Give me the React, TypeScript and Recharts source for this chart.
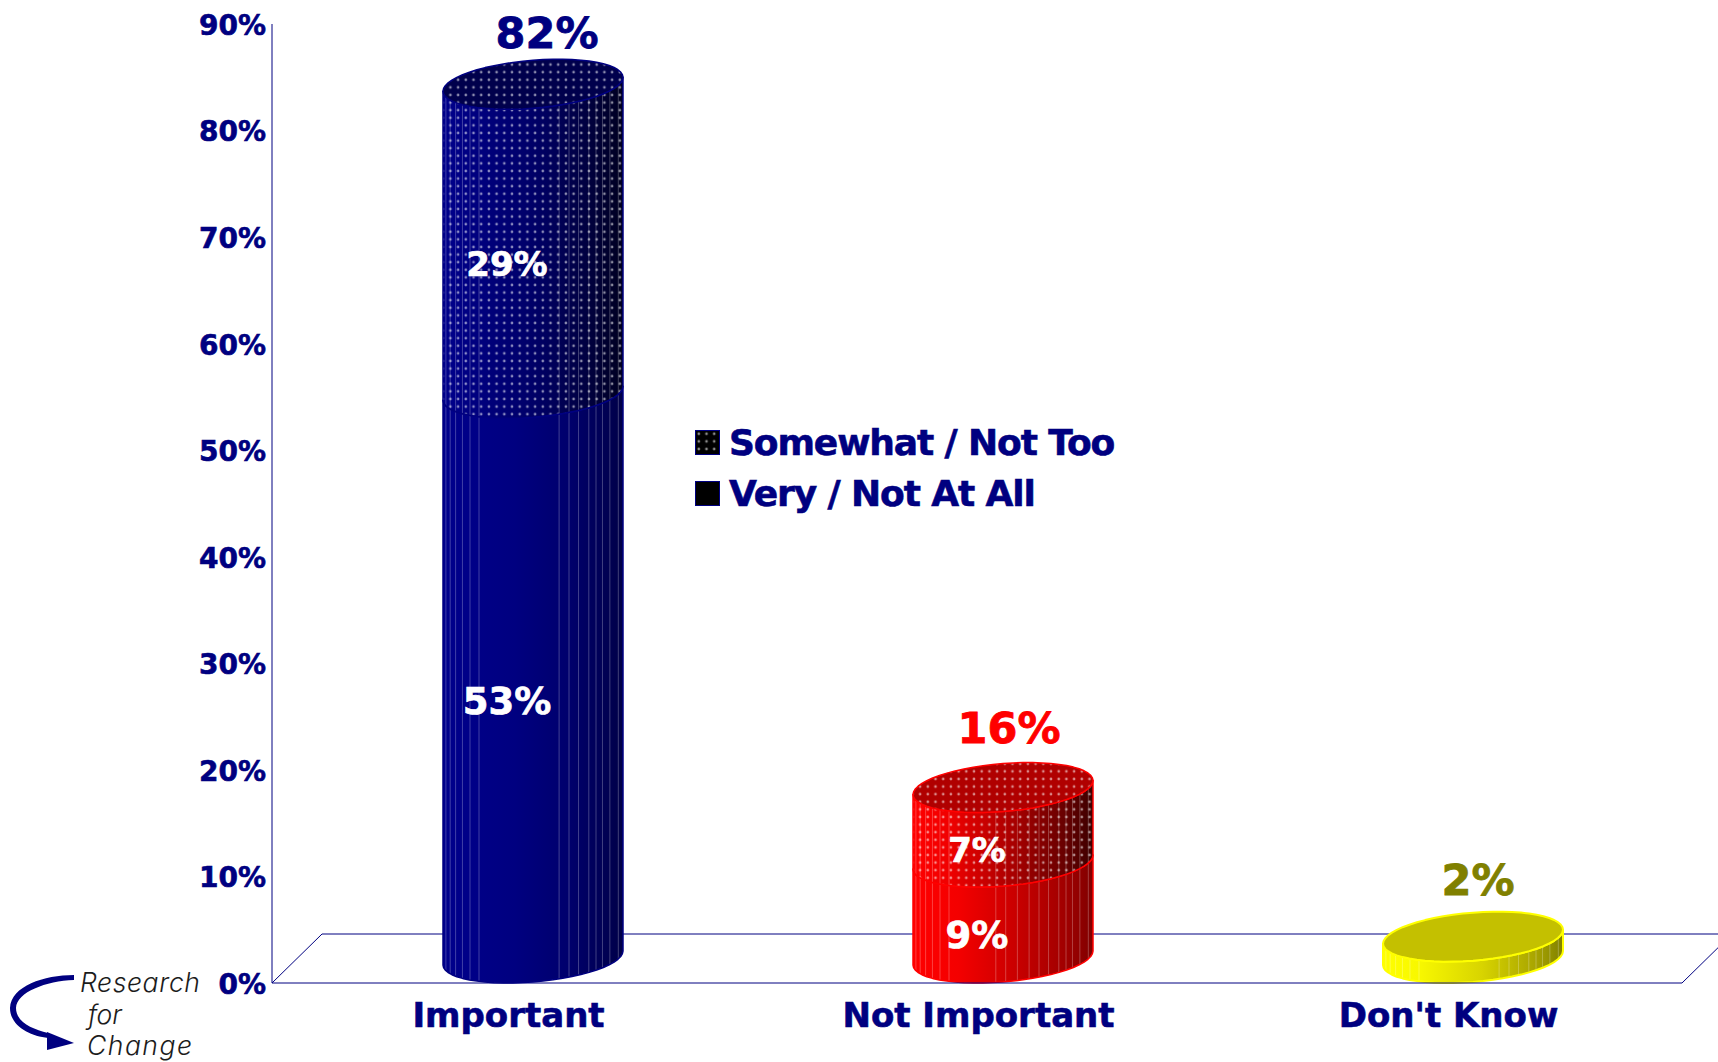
import React from "react";
import {
  ComposedChart,
  Bar,
  Line,
  XAxis,
  YAxis,
  Legend,
  LabelList,
  usePlotArea,
} from "recharts";

const categories = ["Important", "Not Important", "Don't Know"];
const veryValues = [53, 9, null];
const somewhatValues = [29, 7, null];
const dontKnowValues = [null, null, 2];
const totalValues = [82, 16, 2];
const yTicks = [0, 10, 20, 30, 40, 50, 60, 70, 80, 90];
const legendLabels = ["Somewhat / Not Too", "Very / Not At All"];

const totalColors = ["#000080", "#ff0000", "#808000"];
const totalDx = [40, 32, 31];
const totalDy = [-76, -85, -82];
const facetStops = [0.016, 0.04, 0.07, 0.108, 0.15, 0.2, 0.645, 0.7, 0.753, 0.81, 0.85, 0.886, 0.927, 0.974];
const centreFacetStops = [0.46, 0.515, 0.58];

const NAVY = "#000080";
const FONT = "'DejaVu Sans', sans-serif";

const chartData = categories.map((name, i) => ({
  name,
  very: veryValues[i],
  somewhat: somewhatValues[i],
  dontKnow: dontKnowValues[i],
  total: totalValues[i],
}));

const palette = [
  { stroke: "#000080", cap: "#00004c", plain: "url(#blueSide)", dotted: "url(#blueSideDark)" },
  { stroke: "#ff0000", cap: "#b00000", plain: "url(#redSide)", dotted: "url(#redSideDark)" },
  { stroke: "#ffff00", cap: "#c4c000", plain: "url(#yellowSide)", dotted: "url(#yellowSide)" },
];

const DEPTH_SHIFT = 26;
const B = 24;
const K = -7;
const R = Math.sqrt(B * B + K * K);
const STEPS = 28;

function pt(cx: number, cy: number, a: number, t: number): [number, number] {
  return [cx + a * Math.cos(t), cy + B * Math.sin(t) + K * Math.cos(t)];
}

function frontArc(cx: number, cy: number, a: number) {
  const out: [number, number][] = [];
  for (let i = 0; i <= STEPS; i++) out.push(pt(cx, cy, a, Math.PI - (Math.PI * i) / STEPS));
  return out;
}

function toPath(points: [number, number][], close = true) {
  return points.map((p, i) => `${i ? "L" : "M"}${p[0].toFixed(1)} ${p[1].toFixed(1)}`).join(" ") + (close ? " Z" : "");
}

function Cylinder(props: any) {
  const { x, y, width, height, index, dots, topped, plainSide } = props;
  if (!height || height <= 0) return null;
  const colors = palette[index];
  const a = width / 2;
  const cx = x + a + DEPTH_SHIFT;
  const cyTop = y - R;
  const cyBottom = y + height - R;
  const top = frontArc(cx, cyTop, a);
  const bottom = frontArc(cx, cyBottom, a).reverse();
  const side = toPath([...top, ...bottom]);
  const ring: [number, number][] = [];
  for (let i = 0; i < STEPS * 2; i++) ring.push(pt(cx, cyTop, a, (Math.PI * i) / STEPS));
  const cap = toPath(ring);
  const stops = index === 1 ? [...facetStops, ...centreFacetStops] : facetStops;
  return (
    <g>
      <path d={side} fill={plainSide ? colors.plain : colors.dotted} />
      {stops.map((f) => {
        const c = 2 * f - 1;
        const s = Math.sqrt(1 - c * c);
        const lx = cx + a * c;
        return (
          <line
            key={f}
            x1={lx}
            x2={lx}
            y1={cyTop + B * s + K * c}
            y2={cyBottom + B * s + K * c}
            stroke="#ffffff"
            strokeOpacity={0.25}
            strokeWidth={1}
          />
        );
      })}
      {dots ? <path d={side} fill="url(#dotGrid)" /> : null}
      <path d={side} fill="none" stroke={colors.stroke} strokeWidth={index === 2 ? 2 : 1.5} strokeLinejoin="round" />
      {topped ? (
        <g>
          <path d={cap} fill={colors.cap} />
          {dots ? <path d={cap} fill="url(#dotGrid)" /> : null}
          <path d={cap} fill="none" stroke={colors.stroke} strokeWidth={index === 2 ? 2 : 1.5} strokeLinejoin="round" />
        </g>
      ) : null}
    </g>
  );
}

function Floor() {
  const area = usePlotArea();
  if (!area) return null;
  const left = area.x;
  const right = area.x + area.width;
  const base = area.y + area.height;
  const back = base - 49;
  return (
    <g fill="none" stroke={NAVY} strokeWidth={1}>
      <path d={`M${left} ${base} L${left + 50} ${back} L1718 ${back}`} />
      <path d={`M${right} ${base} L${right + 50} ${back}`} />
    </g>
  );
}

function TotalLabel(props: any) {
  const { x, y, value, index } = props;
  return (
    <text
      x={x + totalDx[index]}
      y={y + totalDy[index]}
      textAnchor="middle"
      dominantBaseline="central"
      fill={totalColors[index]}
      stroke={totalColors[index]}
      strokeWidth={0.8}
      fontFamily={FONT}
      fontWeight={700}
      fontSize={43}
    >
      {value}%
    </text>
  );
}

function LegendContent() {
  return (
    <div style={{ fontFamily: FONT, fontWeight: 700, fontSize: 36, color: NAVY, letterSpacing: -1.1 }}>
      {legendLabels.map((label, i) => (
        <div key={label} style={{ display: "flex", alignItems: "center", height: 51 }}>
          <svg width={25} height={25} style={{ marginRight: 9, flex: "none" }}>
            <rect x={0.5} y={0.5} width={24} height={24} fill="#000000" stroke={NAVY} />
            {i === 0 ? <rect x={1} y={1} width={23} height={23} fill="url(#dotGrid)" /> : null}
          </svg>
          <span style={{ whiteSpace: "nowrap", lineHeight: 1, WebkitTextStroke: "0.6px #000080" }}>{label}</span>
        </div>
      ))}
    </div>
  );
}

function Logo() {
  return (
    <svg width={240} height={112} style={{ position: "absolute", left: 0, top: 950 }}>
      <g transform="translate(0 22)">
        <path
          d="M74 3 C44 3 11 14 10 36 C10 54 30 64 48 66 L48 61 C32 57 16 50 16 36 C17 20 46 9 74 8 Z"
          fill={NAVY}
        />
        <path d="M47 60 L74 71 L47 78 Z" fill={NAVY} />
        <g fill="#1c1c1c" fontFamily="Inter, sans-serif" fontStyle="italic" fontWeight={300} fontSize={26.5}>
          <text x={80} y={20} letterSpacing={0.6}>Research</text>
          <text x={88} y={52}>for</text>
          <text x={87} y={83} letterSpacing={1.5}>Change</text>
        </g>
      </g>
    </svg>
  );
}

export default function App() {
  return (
    <div style={{ position: "absolute", left: 0, top: 0, width: 1718, height: 1062, background: "#ffffff", overflow: "hidden" }}>
      <ComposedChart
        width={1718}
        height={1062}
        data={chartData}
        margin={{ top: 24, right: 36, bottom: 0, left: 0 }}
        barCategoryGap={0}
      >
        <defs>
          <linearGradient id="blueSide" x1="0" x2="1" y1="0" y2="0">
            <stop offset="0" stopColor="#00008c" />
            <stop offset="0.4" stopColor="#000080" />
            <stop offset="0.7" stopColor="#00006c" />
            <stop offset="1" stopColor="#000048" />
          </linearGradient>
          <linearGradient id="blueSideDark" x1="0" x2="1" y1="0" y2="0">
            <stop offset="0" stopColor="#00008c" />
            <stop offset="0.5" stopColor="#000068" />
            <stop offset="0.8" stopColor="#000040" />
            <stop offset="1" stopColor="#000020" />
          </linearGradient>
          <linearGradient id="redSide" x1="0" x2="1" y1="0" y2="0">
            <stop offset="0" stopColor="#ff0000" />
            <stop offset="0.25" stopColor="#f40000" />
            <stop offset="0.55" stopColor="#cc0000" />
            <stop offset="0.85" stopColor="#a00000" />
            <stop offset="1" stopColor="#800000" />
          </linearGradient>
          <linearGradient id="redSideDark" x1="0" x2="1" y1="0" y2="0">
            <stop offset="0" stopColor="#ff0000" />
            <stop offset="0.2" stopColor="#f00000" />
            <stop offset="0.55" stopColor="#aa0000" />
            <stop offset="0.85" stopColor="#660000" />
            <stop offset="1" stopColor="#3c0000" />
          </linearGradient>
          <linearGradient id="yellowSide" x1="0" x2="1" y1="0" y2="0">
            <stop offset="0" stopColor="#ffff00" />
            <stop offset="0.2" stopColor="#f8f800" />
            <stop offset="0.55" stopColor="#d8d400" />
            <stop offset="0.85" stopColor="#a8a400" />
            <stop offset="1" stopColor="#808000" />
          </linearGradient>
          <pattern id="dotGrid" patternUnits="userSpaceOnUse" width={7.7} height={7.6}>
            <circle cx={3.8} cy={3.8} r={1.35} fill="#ffffff" fillOpacity={0.55} />
          </pattern>
        </defs>
        <Floor />
        <XAxis
          dataKey="name"
          height={79}
          axisLine={{ stroke: NAVY, strokeWidth: 1 }}
          tickLine={false}
          tickSize={0}
          tickMargin={20}
          interval={0}
          tick={{ fill: NAVY, stroke: NAVY, strokeWidth: 0.6, fontFamily: FONT, fontWeight: 700, fontSize: 34, dx: 1.5 }}
        />
        <YAxis
          domain={[0, 90]}
          ticks={yTicks}
          width={272}
          interval={0}
          axisLine={{ stroke: NAVY, strokeWidth: 1 }}
          tickLine={false}
          tickSize={4}
          tickMargin={2}
          tickFormatter={(v: number) => `${v}%`}
          tick={{ fill: NAVY, stroke: NAVY, strokeWidth: 0.6, fontFamily: FONT, fontWeight: 700, fontSize: 28, dy: 1 }}
        />
        <Legend
          layout="vertical"
          align="center"
          verticalAlign="middle"
          content={<LegendContent />}
          wrapperStyle={{ position: "absolute", left: 695, top: 417, width: 440 }}
        />
        <Bar
          dataKey="very"
          name="Very / Not At All"
          stackId="a"
          barSize={180}
          fill="#000000"
          isAnimationActive={false}
          shape={(p: any) => <Cylinder {...p} dots={false} topped={false} plainSide />}
        >
          <LabelList
            dataKey="very"
            position="center"
            formatter={(v: any) => (v == null ? "" : `${v}%`)}
            fill="#ffffff"
            stroke="#ffffff"
            strokeWidth={0.7}
            fontFamily={FONT}
            fontWeight={700}
            fontSize={37}
          />
        </Bar>
        <Bar
          dataKey="somewhat"
          name="Somewhat / Not Too"
          stackId="a"
          barSize={180}
          fill="#000000"
          isAnimationActive={false}
          shape={(p: any) => <Cylinder {...p} dots topped plainSide={false} />}
        >
          <LabelList
            dataKey="somewhat"
            position="center"
            formatter={(v: any) => (v == null ? "" : `${v}%`)}
            fill="#ffffff"
            stroke="#ffffff"
            strokeWidth={0.7}
            fontFamily={FONT}
            fontWeight={700}
            fontSize={34}
          />
        </Bar>
        <Bar
          dataKey="dontKnow"
          name="Don't Know"
          stackId="a"
          barSize={180}
          fill="#ffff00"
          legendType="none"
          isAnimationActive={false}
          shape={(p: any) => <Cylinder {...p} dots={false} topped plainSide />}
        />
        <Line
          dataKey="total"
          stroke="none"
          dot={false}
          activeDot={false}
          legendType="none"
          isAnimationActive={false}
        >
          <LabelList dataKey="total" content={<TotalLabel />} />
        </Line>
      </ComposedChart>
      <Logo />
    </div>
  );
}
